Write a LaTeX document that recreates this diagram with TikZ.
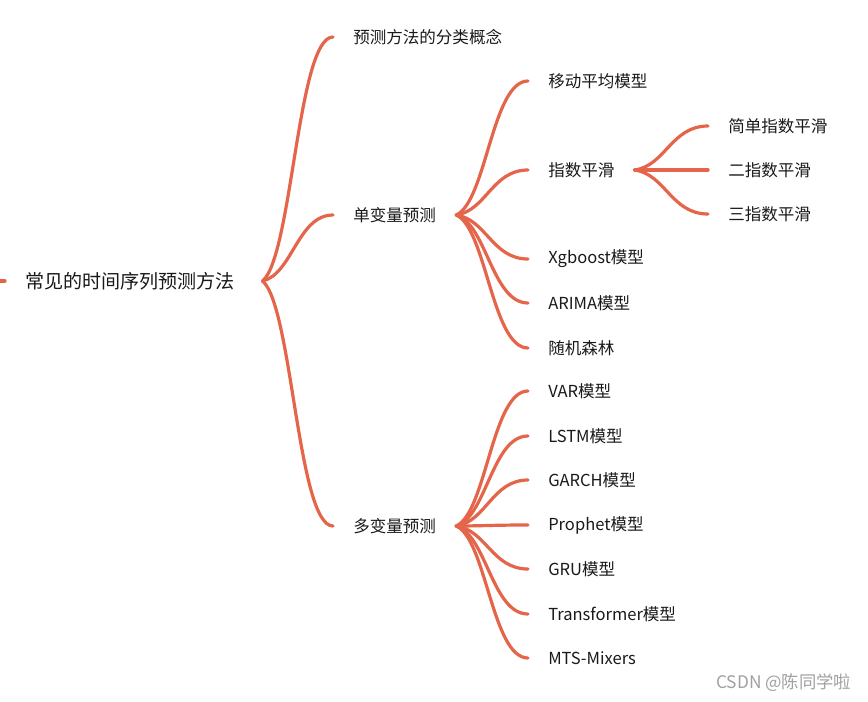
\documentclass[tikz,border=0pt]{standalone}
\usepackage{fontspec}
\setmainfont{Noto Sans CJK SC}
\usetikzlibrary{calc}

\definecolor{branchred}{HTML}{E5654A}
\definecolor{markgray}{HTML}{A0A0A0}

\begin{document}
\begin{tikzpicture}[x=0.75pt, y=-0.75pt,
    topic/.style={anchor=west, inner xsep=15pt, inner ysep=0pt,
                  font=\fontsize{12.4}{14}\selectfont, text=black!90},
    roottopic/.style={topic, font=\fontsize{14.3}{16}\selectfont,
                      text width=162.75pt, align=left},
    branch/.style={draw=branchred, line width=2.4pt, line cap=round,
      to path={let \p1=(\tikztostart), \p2=(\tikztotarget) in
        .. controls ({\x1+0.42*(\x2-\x1)},{\y1+0.1*(\y2-\y1)})
           and ({\x1+0.5*(\x2-\x1)},\y2) .. (\tikztotarget) \tikztonodes}}]
  \useasboundingbox (0,0) rectangle (868,701);

  % root
  \coordinate (stub) at (0,281);
  \node[roottopic] (root) at (5,281) {常见的时间序列预测方法};

  % first level
  \node[topic] (concept) at (333,37)  {预测方法的分类概念};
  \node[topic] (uni)     at (333,215) {单变量预测};
  \node[topic] (multi)   at (333,526) {多变量预测};

  % univariate
  \node[topic] (ma)     at (528,81)  {移动平均模型};
  \node[topic] (expsm)  at (528,170) {指数平滑};
  \node[topic] (xgb)    at (528,259) {Xgboost模型};
  \node[topic] (arima)  at (528,303) {ARIMA模型};
  \node[topic] (forest) at (528,348) {随机森林};

  % exponential smoothing
  \node[topic] (ses) at (708,126) {简单指数平滑};
  \node[topic] (des) at (708,170) {二指数平滑};
  \node[topic] (tes) at (708,214) {三指数平滑};

  % multivariate
  \node[topic] (var)     at (528,391) {VAR模型};
  \node[topic] (lstm)    at (528,436) {LSTM模型};
  \node[topic] (garch)   at (528,480) {GARCH模型};
  \node[topic] (prophet) at (528,525) {Prophet模型};
  \node[topic] (gru)     at (528,569) {GRU模型};
  \node[topic] (trans)   at (528,614) {Transformer模型};
  \node[topic] (mts)     at (528,658) {MTS-Mixers};

  \draw[branch] (stub) -- (root.west);
  \foreach \kid in {concept, uni, multi}
    \draw[branch] (root.east) to (\kid.west);
  \foreach \kid in {ma, expsm, xgb, arima, forest}
    \draw[branch] (uni.east) to (\kid.west);
  \foreach \kid in {ses, des, tes}
    \draw[branch] (expsm.east) to (\kid.west);
  \foreach \kid in {var, lstm, garch, prophet, gru, trans, mts}
    \draw[branch] (multi.east) to (\kid.west);

  \node[anchor=west, inner sep=0pt, text=markgray,
        font=\fontsize{13}{15}\selectfont] (mark) at (716,683)
    {CSDN @陈同学啦};
\end{tikzpicture}
\end{document}
